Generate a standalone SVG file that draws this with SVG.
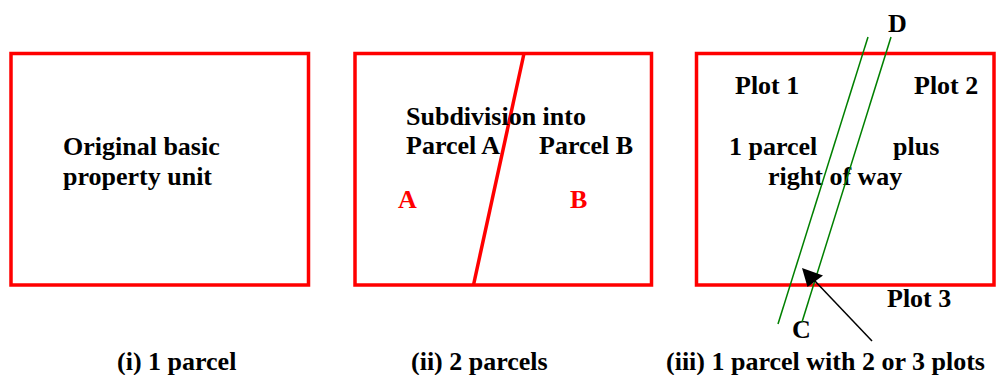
<svg xmlns="http://www.w3.org/2000/svg" width="996" height="375" viewBox="0 0 996 375">
<style>
.box{fill:none;stroke:#ff0000;stroke-width:3.5}
.t{font-family:"Liberation Serif","Times New Roman",serif;font-weight:bold;font-size:26px;fill:#000}
.r{fill:#ff0000}
.g{stroke:#008000;stroke-width:1.5;fill:none}
</style>
<rect width="996" height="375" fill="#fff"/>
<g id="panel1">
<rect class="box" x="11" y="53.5" width="297.5" height="231.5"/>
<text class="t" x="63" y="155">Original basic</text>
<text class="t" x="63" y="185">property unit</text>
<text class="t" x="117" y="370">(i) 1 parcel</text>
</g>
<g id="panel2">
<rect class="box" x="355" y="53.5" width="296.5" height="231.5"/>
<line x1="524" y1="53.5" x2="473.5" y2="285" stroke="#ff0000" stroke-width="3.5"/>
<text class="t" x="406" y="125">Subdivision into</text>
<text class="t" x="406" y="154">Parcel A</text>
<text class="t" x="539" y="154">Parcel B</text>
<text class="t r" x="398" y="208">A</text>
<text class="t r" x="570" y="208">B</text>
<text class="t" x="411" y="370">(ii) 2 parcels</text>
</g>
<g id="panel3">
<rect class="box" x="696.5" y="53.5" width="297.5" height="231.5"/>
<text class="t" x="735" y="94">Plot 1</text>
<text class="t" x="914" y="94">Plot 2</text>
<text class="t" x="729" y="155">1 parcel</text>
<text class="t" x="893" y="155">plus</text>
<text class="t" x="768" y="185">right of way</text>
<text class="t" x="887" y="307">Plot 3</text>
<text class="t" x="888" y="32">D</text>
<text class="t" x="792" y="338">C</text>
<text class="t" x="666" y="370">(iii) 1 parcel with 2 or 3 plots</text>
</g>
<g id="connectors">
<line class="g" x1="868" y1="37" x2="778" y2="324"/>
<line class="g" x1="891" y1="37" x2="802" y2="322"/>
<line x1="872" y1="341" x2="814" y2="280" stroke="#000" stroke-width="1.5"/>
<path d="M802,268 L823,275.5 L807.5,287 z" fill="#000"/>
</g>
</svg>
